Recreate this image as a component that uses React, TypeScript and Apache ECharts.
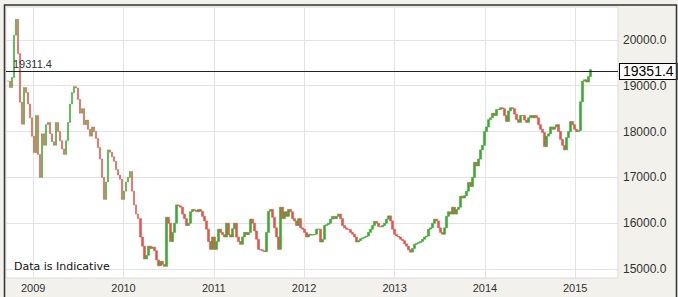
import React, { useEffect, useRef } from "react";
import * as echarts from "echarts";

// Closing prices, evenly sampled between START_DATE and END_DATE
const START_DATE = "2008-09-21";
const END_DATE = "2015-03-03";
const closes = [
  19100, 18960, 19180, 20100, 20450, 19700, 18640, 18160, 18960, 18850,
  18600, 18300, 17900, 17540, 18350, 17500, 17000, 17950, 17700, 18150,
  18200, 17950, 17780, 17700, 18200, 18000, 17800, 17620, 17500, 17800,
  18200, 18600, 18850, 18980, 18950, 18700, 18400, 18500, 18150, 18250,
  18050, 17900, 18100, 18000, 17850, 17650, 17400, 17000, 16520, 16900,
  17600, 17550, 17450, 17350, 17170, 17050, 16960, 16520, 16700, 16900,
  17000, 17130, 16700, 16400, 16200, 16100, 15700, 15500, 15220, 15300,
  15500, 15450, 15480, 15400, 15200, 15070, 15170, 15100, 15060, 16130,
  16000, 15600, 15800, 16000, 16400, 16380, 16350, 16200, 16100, 15950,
  16000, 16250, 16300, 16280, 16250, 16300, 16260, 16150, 16050, 15870,
  15600, 15430, 15700, 15430, 15600, 15870, 15800, 15750, 15700, 16000,
  15750, 15700, 15880, 16000, 15700, 15600, 15540, 15700, 15800, 15750,
  15800, 16090, 16000, 15830, 15650, 15430, 15420, 15400, 15380, 15800,
  16260, 16300, 16130, 15900, 15700, 15430, 16350, 16100, 16250, 16150,
  16300, 16250, 16100, 16050, 15950, 16100, 15900, 15870, 15800, 15700,
  15760, 15740, 15750, 15760, 15870, 15870, 15590, 15650, 15950, 15970,
  16000, 16090, 16150, 16100, 16150, 16200, 16100, 15950, 15900, 15870,
  15860, 15800, 15760, 15700, 15590, 15620, 15660, 15680, 15700, 15720,
  15800, 15870, 15950, 16040, 16000, 15930, 15920, 15950, 16000, 16090,
  16160, 16050, 15870, 15760, 15720, 15700, 15650, 15620, 15550, 15500,
  15420, 15370, 15450, 15540, 15560, 15580, 15600, 15650, 15700, 15720,
  15870, 15900, 16000, 16090, 16050, 15900, 15800, 15760, 15900, 16150,
  16250, 16200, 16350, 16200, 16300, 16350, 16590, 16550, 16600, 16700,
  16890, 16800, 17000, 17330, 17250, 17400, 17600, 17700, 18000, 18100,
  18260, 18300, 18400, 18350, 18480, 18480, 18520, 18500, 18350, 18220,
  18450, 18520, 18500, 18380, 18260, 18200, 18350, 18350, 18250, 18200,
  18300, 18350, 18300, 18350, 18300, 18150, 18050, 17980, 17670, 17900,
  17950, 18100, 18050, 18100, 18150, 18000, 17830, 17700, 17600, 17870,
  18000, 18220, 18150, 18050, 18000, 18020, 18650, 19100, 19130, 19080,
  19200, 19350,
];

const yearTicks = [
  "2009-01-01", "2010-01-01", "2011-01-01", "2012-01-01",
  "2013-01-01", "2014-01-01", "2015-01-01",
];
const priceTicks = [15000, 16000, 17000, 18000, 19000, 20000];
const refLevel = 19311.4;
const refLabel = "19311.4";
const lastLabel = "19351.4";
const noteText = "Data is Indicative";

const X_MIN = "2008-09-13";
const X_MAX = "2015-06-23";
const Y_MIN = 14805;
const Y_MAX = 20717;

const UP = "#3aac33";
const DOWN = "#e2564c";

export default function App() {
  const ref = useRef<HTMLDivElement>(null);

  useEffect(() => {
    if (!ref.current) return;
    const chart = echarts.init(ref.current, undefined, { renderer: "svg" });
    const t0 = new Date(START_DATE).getTime();
    const t1 = new Date(END_DATE).getTime();
    const n = closes.length;
    const candles = closes.map((c, i) => {
      const t = t0 + ((t1 - t0) * i) / (n - 1);
      const o = i === 0 ? c : closes[i - 1];
      return [t, o, c, Math.min(o, c), Math.max(o, c)];
    });
    const yearTs = yearTicks.map((d) => new Date(d).getTime());

    chart.setOption({
      animation: false,
      backgroundColor: "#f2f1ec",
      grid: {
        left: 6,
        right: 60,
        top: 7,
        bottom: 19,
        show: true,
        backgroundColor: "#ffffff",
        borderColor: "#dcdcdc",
        borderWidth: 1,
      },
      xAxis: {
        type: "value",
        min: new Date(X_MIN).getTime(),
        max: new Date(X_MAX).getTime(),
        axisLine: { show: false },
        axisTick: { show: false, customValues: yearTs },
        axisLabel: {
          customValues: yearTs,
          formatter: (v: number) => String(new Date(v).getUTCFullYear()),
          color: "#333",
          fontSize: 11,
          fontFamily: "Liberation Sans, Arial, sans-serif",
          margin: 4,
        },
        splitLine: { show: true, lineStyle: { color: "#e3e3e3", width: 1 } },
      },
      yAxis: {
        type: "value",
        position: "right",
        min: Y_MIN,
        max: Y_MAX,
        axisLine: { show: false },
        axisTick: { show: false, customValues: priceTicks },
        axisLabel: {
          customValues: priceTicks,
          formatter: (v: number) => v.toFixed(1),
          color: "#333",
          fontSize: 12,
          fontFamily: "Liberation Sans, Arial, sans-serif",
          margin: 5,
        },
        splitLine: { show: true, lineStyle: { color: "#e3e3e3", width: 1 } },
      },
      series: [
        {
          type: "candlestick",
          data: candles,
          encode: { x: 0, y: [1, 2, 3, 4] },
          barWidth: 2.4,
          itemStyle: {
            color: UP,
            color0: DOWN,
            borderColor: UP,
            borderColor0: DOWN,
            borderColorDoji: UP,
            borderWidth: 0.6,
          },
          markLine: {
            silent: true,
            symbol: "none",
            animation: false,
            lineStyle: { color: "#222", width: 1, type: "solid" },
            data: [
              {
                yAxis: refLevel,
                label: {
                  show: true,
                  position: "insideStartTop",
                  formatter: refLabel,
                  color: "#333",
                  fontSize: 11,
                  fontFamily: "Liberation Sans, Arial, sans-serif",
                  distance: [7, 2],
                },
              },
              {
                yAxis: refLevel,
                label: {
                  show: true,
                  position: "end",
                  formatter: lastLabel,
                  color: "#000",
                  fontSize: 14,
                  fontFamily: "Liberation Sans, Arial, sans-serif",
                  backgroundColor: "#fff",
                  borderColor: "#000",
                  borderWidth: 1,
                  padding: [1, 3, 0, 3],
                  distance: 2,
                },
              },
            ],
          },
        },
      ],
      graphic: [
        {
          type: "rect",
          shape: { x: 4.5, y: 5, width: 672, height: 300 },
          style: { fill: "none", stroke: "#333", lineWidth: 1.5 },
          silent: true,
          z: 100,
        },
        {
          type: "text",
          left: 14,
          top: 261,
          style: {
            text: noteText,
            fill: "#111",
            fontSize: 11,
            fontFamily: "DejaVu Sans, Verdana, sans-serif",
          },
          z: 100,
        },
      ],
    });
    return () => chart.dispose();
  }, []);

  return (
    <div
      ref={ref}
      style={{ position: "fixed", left: 0, top: 0, width: 678, height: 297 }}
    />
  );
}
